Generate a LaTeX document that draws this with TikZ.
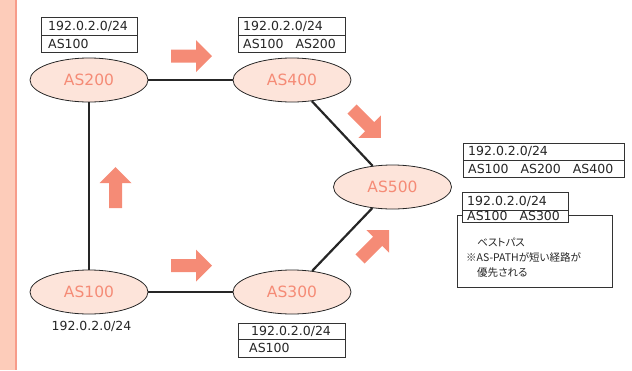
\documentclass[tikz,border=0pt]{standalone}
\usepackage{fontspec}
\setmainfont{DejaVu Sans}
\newfontfamily\jp[RawFeature=+palt]{Noto Sans CJK JP}
\usetikzlibrary{shapes.geometric}
\definecolor{salmon}{HTML}{F58B76}
\definecolor{pinkfill}{HTML}{FDE4DA}
\definecolor{stripe}{HTML}{FDCCBA}
\definecolor{boxline}{HTML}{333333}
\tikzset{
  asnode/.style={ellipse, draw=black!85, line width=0.8pt, fill=pinkfill,
    minimum width=118pt, minimum height=44pt, inner sep=0pt,
    text=salmon, font=\fontsize{15.5}{16}\selectfont},
  link/.style={line width=2.2pt, draw=black!85},
  rowbox/.style={draw=boxline, line width=0.7pt, fill=white, inner sep=0pt,
    anchor=north west},
  plain/.style={inner sep=0pt, font=\fontsize{12.5}{13}\selectfont, text=black!85},
  note/.style={inner sep=0pt, anchor=west, font=\jp\fontsize{10.5}{11}\selectfont, text=black!85},
}
\newcommand\blockarrow[3]{%
  \fill[salmon, shift={(#1,#2)}, rotate=#3]
    (-20.5,-6.5) -- (4.5,-6.5) -- (4.5,-16) -- (20.5,0) -- (4.5,16) -- (4.5,6.5) -- (-20.5,6.5) -- cycle;}
\begin{document}
\begin{tikzpicture}[x=1pt,y=-1pt]
\useasboundingbox (0,0) rectangle (632,370);
% left stripe
\fill[stripe] (0,0) rectangle (15,370);
\draw[salmon!85, line width=1.6pt] (16,0) -- (16,370);

% AS nodes
\node[asnode] (as200) at (89,80) {AS200};
\node[asnode] (as400) at (292,80) {AS400};
\node[asnode] (as500) at (392.5,187) {AS500};
\node[asnode] (as100) at (89,292) {AS100};
\node[asnode] (as300) at (292,292) {AS300};

% links
\draw[link] (as200) -- (as400);
\draw[link] (as200) -- (as100);
\draw[link] (as100) -- (as300);
\draw[link] (as400) -- (as500);
\draw[link] (as300) -- (as500);

% arrows
\blockarrow{191.5}{56}{0}
\blockarrow{191.5}{265.5}{0}
\blockarrow{115.5}{187.5}{90}
\blockarrow{366.5}{123.5}{-45}
\blockarrow{374.5}{244.5}{45}

% AS200 table
\node[rowbox, minimum width=96pt, minimum height=18pt] (t200a) at (41,17) {};
\node[rowbox, minimum width=96pt, minimum height=17pt] (t200b) at (41,35) {};
\node[plain, anchor=west] (t200at) at ([xshift=7pt]t200a.west) {192.0.2.0/24};
\node[plain, anchor=west] (t200bt) at ([xshift=7pt]t200b.west) {AS100};

% AS400 table
\node[rowbox, minimum width=107pt, minimum height=18pt] (t400a) at (238,17) {};
\node[rowbox, minimum width=107pt, minimum height=17pt] (t400b) at (238,35) {};
\node[plain, anchor=west] (t400at) at ([xshift=5pt]t400a.west) {192.0.2.0/24};
\node[plain, anchor=west] (t400bt) at ([xshift=5pt]t400b.west) {AS100\hspace{12pt}AS200};

% AS500 table 1
\node[rowbox, minimum width=161pt, minimum height=17pt] (t500a) at (463,143) {};
\node[rowbox, minimum width=161pt, minimum height=17pt] (t500b) at (463,160) {};
\node[plain, anchor=west] (t500at) at ([xshift=5pt]t500a.west) {192.0.2.0/24};
\node[plain, anchor=west] (t500bt) at ([xshift=5pt]t500b.west) {AS100\hspace{12pt}AS200\hspace{12pt}AS400};

% AS500 best path frame
\node[draw=boxline, line width=0.7pt, fill=white, inner sep=0pt, anchor=north west,
  minimum width=155pt, minimum height=72pt] (best) at (457,215) {};
\node[rowbox, minimum width=106pt, minimum height=18pt] (t5ba) at (462,192) {};
\node[rowbox, minimum width=106pt, minimum height=12pt] (t5bb) at (462,210) {};
\node[plain, anchor=west] (t5bat) at ([xshift=5pt]t5ba.west) {192.0.2.0/24};
\node[plain, anchor=west] (t5bbt) at ([xshift=5pt]t5bb.west) {AS100\hspace{12pt}AS300};
\node[note] (n1) at (477,242) {ベストパス};
\node[note] (n2) at (466,257.5) {※AS-PATHが短い経路が};
\node[note] (n3) at (477,273) {優先される};

% AS100 label
\node[plain] (l100) at (91.5,326) {192.0.2.0/24};

% AS300 table
\node[rowbox, minimum width=107pt, minimum height=16pt] (t300a) at (238,323) {};
\node[rowbox, minimum width=107pt, minimum height=18pt] (t300b) at (238,339) {};
\node[plain, anchor=west] (t300at) at ([xshift=13pt]t300a.west) {192.0.2.0/24};
\node[plain, anchor=west] (t300bt) at ([xshift=11pt]t300b.west) {AS100};
\end{tikzpicture}
\end{document}
